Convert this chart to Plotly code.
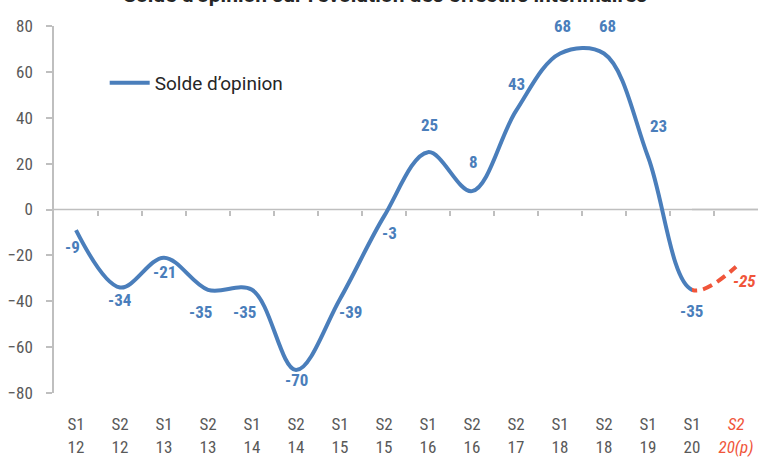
import plotly.graph_objects as go

# ---- data ----
periods = ["S1", "S2", "S1", "S2", "S1", "S2", "S1", "S2", "S1", "S2", "S2", "S1", "S2", "S1", "S1", "S2"]
years = ["12", "12", "13", "13", "14", "14", "15", "15", "16", "16", "17", "18", "18", "19", "20", "20(p)"]
solde = [-9, -34, -21, -35, -35, -70, -39, -3, 25, 8, 43, 68, 68, 23, -35]
forecast = [-35, -25]  # from S1 20 to S2 20(p)
series_name = "Solde d\u2019opinion"
title_text = "Solde d\u2019opinion sur l\u2019\u00e9volution des effectifs int\u00e9rimaires"
y_ticks = [-80, -60, -40, -20, 0, 20, 40, 60, 80]

# ---- style ----
BLUE = "#4a7ebb"
RED = "#f0553a"
GRAY_AX = "#bfbfbf"
TXT = "#595959"
FONT = "Roboto Condensed, Liberation Sans Narrow, Arial Narrow, Roboto, sans-serif"

n = len(periods)
x_idx = list(range(n))
x_main = x_idx[: len(solde)]
full_y = solde + forecast[1:]          # one smoothed series, last segment = forecast
n_obs = len(solde)
xr = [-0.5, n - 0.5]
start_fc = n_obs - 1                   # forecast starts at S1 20
dom3 = (start_fc - xr[0]) / (xr[1] - xr[0])

ticktext = [f"{p}<br>{y}" for p, y in zip(periods, years)]
ticktext[-1] = f"<span style='color:{RED}'><i>{periods[-1]}<br>{years[-1]}</i></span>"

spline = dict(shape="spline", smoothing=1.0)
fig = go.Figure()
# horizontal axis line at zero (reference line across the category range)
fig.add_trace(go.Scatter(
    x=xr, y=[0, 0], mode="lines", showlegend=False, hoverinfo="skip",
    line=dict(color=GRAY_AX, width=1.5),
))
# observed series (smoothed over the whole series, so the bend at S1 20 is rounded)
fig.add_trace(go.Scatter(
    x=x_idx, y=full_y, mode="lines", name=series_name,
    line=dict(color=BLUE, width=4, **spline), hoverinfo="skip",
))
# forecast sub-area (x3): zero line, mask, dashed forecast segment
fig.add_trace(go.Scatter(
    x=[start_fc, xr[1]], y=[0, 0], mode="lines", showlegend=False, xaxis="x3",
    line=dict(color=GRAY_AX, width=1.5), hoverinfo="skip",
))
fig.add_trace(go.Scatter(
    x=x_idx, y=full_y, mode="lines", showlegend=False, xaxis="x3",
    line=dict(color="white", width=9, **spline), hoverinfo="skip",
))
fig.add_trace(go.Scatter(
    x=x_idx, y=full_y, mode="lines", showlegend=False, xaxis="x3",
    line=dict(color=RED, width=4, dash="10px,6px", **spline), hoverinfo="skip",
))
# carrier for the zero-axis tick marks (x2)
fig.add_trace(go.Scatter(
    x=[x_idx[0], x_idx[-1]], y=[None, None], mode="lines", showlegend=False,
    xaxis="x2", hoverinfo="skip",
))

# data labels (offsets in px, style only)
dx = [-4, 0, 0, -8, -8, 0, 10, 5, 1, 1, 0, 2, 3, 10, -1]
dy = [-17, -13, -14, -22, -22, -10, -13, -17, 27, 29, 27, 28, 28, 31, -21]
for i, v in enumerate(solde):
    fig.add_annotation(
        x=x_main[i], y=v, text=f"<b>{v}</b>", showarrow=False,
        xshift=dx[i], yshift=dy[i],
        font=dict(family=FONT, size=17, color=BLUE),
    )
fig.add_annotation(
    x=x_idx[-1], y=forecast[-1], text=f"<b><i>{forecast[-1]}</i></b>",
    showarrow=False, xshift=8, yshift=-14,
    font=dict(family=FONT, size=17, color=RED),
)

# cut-off title
fig.add_annotation(
    xref="paper", yref="paper", x=0.47, y=1, yanchor="bottom", yshift=17,
    text=f"<b>{title_text}</b>", showarrow=False,
    font=dict(family="Roboto, sans-serif", size=21, color="#262626"),
)

fig.update_layout(
    width=758, height=458,
    margin=dict(l=54, r=0, t=26, b=65, autoexpand=False),
    paper_bgcolor="white", plot_bgcolor="rgba(0,0,0,0)",
    font=dict(family=FONT, color=TXT, size=17),
    showlegend=True,
    legend=dict(x=0.072, y=0.845, xanchor="left", yanchor="middle", itemwidth=40,
                bgcolor="rgba(0,0,0,0)", font=dict(family="Roboto, sans-serif", size=19, color="#262626")),
    xaxis=dict(
        range=xr, tickmode="array", tickvals=x_idx, ticktext=ticktext,
        showline=False, showgrid=False, zeroline=False, automargin=False,
        ticks="outside", ticklen=16, tickcolor="rgba(0,0,0,0)",
        tickfont=dict(family=FONT, size=17, color=TXT),
    ),
    xaxis2=dict(
        range=xr, overlaying="x", anchor="free", position=0.5, automargin=False,
        tickmode="array", tickvals=[i + 0.5 for i in x_idx[:-1]],
        showticklabels=False, showline=False,
        ticks="outside", ticklen=5, tickcolor=GRAY_AX, tickwidth=1.5,
        showgrid=False, zeroline=False,
    ),
    xaxis3=dict(
        range=[start_fc, xr[1]], domain=[dom3, 1], anchor="y", automargin=False,
        visible=False, showgrid=False, zeroline=False,
    ),
    yaxis=dict(
        range=[-80, 80], tickmode="array", tickvals=y_ticks, automargin=False,
        showline=True, linecolor=GRAY_AX, linewidth=1.5,
        ticks="outside", ticklen=6, tickcolor=GRAY_AX, tickwidth=1.5,
        ticklabelstandoff=10,
        showgrid=False, zeroline=False,
        tickfont=dict(family=FONT, size=17, color=TXT),
    ),
)

fig.write_html("out.html", post_script="document.body.style.margin='0';",
               config={"displayModeBar": False})
